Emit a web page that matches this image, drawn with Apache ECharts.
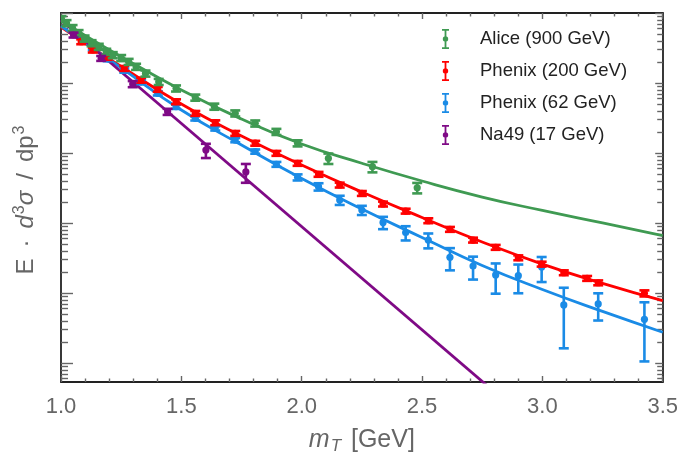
<!DOCTYPE html>
<html>
<head>
<meta charset="utf-8">
<script src="https://cdn.jsdelivr.net/npm/echarts@6/dist/echarts.min.js"></script>
<style>html,body{margin:0;padding:0;background:#fff}#c{width:681px;height:462px}</style>
</head>
<body>
<div id="c"></div>
<script>
// ---------- data ----------
const xMin = 1.0, xMax = 3.5;
const yMin = 5.35e-6, yMax = 1;
const xTickLabels = ['1.0','1.5','2.0','2.5','3.0','3.5'];
const seriesNames = ['Alice (900 GeV)', 'Phenix (200 GeV)', 'Phenix (62 GeV)', 'Na49 (17 GeV)'];

const aliceX = [1.002,1.023,1.048,1.073,1.098,1.127,1.157,1.188,1.215,1.25,1.281,1.312,1.351,1.406,1.478,1.558,1.637,1.724,1.807,1.895,1.983,2.111,2.294,2.48];
const aliceY = [0.820,0.719,0.611,0.518,0.433,0.372,0.330,0.280,0.251,0.228,0.201,0.171,0.137,0.104,0.0839,0.0621,0.0461,0.0369,0.0265,0.0201,0.0138,0.00839,0.00637,0.00319];
const aliceErr = [0.1,0.1,0.1,0.1,0.1,0.1,0.1,0.1,0.1,0.1,0.1,0.1,0.1,0.1,0.1,0.1,0.1,0.1,0.1,0.1,0.1,0.17,0.17,0.17];

const phx200X = [1.084,1.132,1.194,1.263,1.333,1.402,1.478,1.558,1.641,1.724,1.807,1.895,1.983,2.07,2.158,2.25,2.338,2.432,2.526,2.616,2.712,2.806,2.9,2.997,3.089,3.186,3.232,3.424];
const phx200Y = [0.389,0.296,0.233,0.162,0.110,0.0813,0.0541,0.0369,0.0271,0.0191,0.0138,0.00991,0.00713,0.00497,0.00349,0.00265,0.00187,0.00148,0.00108,0.000813,0.000571,0.000450,0.000319,0.000259,0.000195,0.000162,0.000140,0.0000991];
const phx200Err = [0.08,0.08,0.08,0.08,0.08,0.08,0.08,0.08,0.08,0.08,0.08,0.08,0.08,0.08,0.08,0.08,0.08,0.08,0.08,0.08,0.08,0.08,0.08,0.08,0.08,0.08,0.08,0.1];

const phx62X = [1.132,1.194,1.263,1.333,1.402,1.478,1.558,1.641,1.724,1.807,1.895,1.983,2.07,2.158,2.25,2.338,2.432,2.526,2.616,2.712,2.806,2.9,2.997,3.089,3.232,3.424];
const phx62Y = [0.316,0.220,0.151,0.103,0.0713,0.0458,0.0313,0.0225,0.0153,0.0105,0.0069,0.0045,0.0033,0.00213,0.00153,0.00102,0.000731,0.000571,0.000324,0.000243,0.000181,0.000177,0.000235,0.0000675,0.0000697,0.0000421];
const phx62Err = [0.07,0.07,0.07,0.07,0.07,0.07,0.07,0.07,0.07,0.07,0.08,0.1,0.12,0.15,0.15,0.2,0.23,0.24,0.35,0.36,0.46,0.44,0.39,0.76,0.42,0.75];

const na49X = [1.052,1.167,1.298,1.443,1.602,1.768];
const na49Y = [0.485,0.225,0.0968,0.0389,0.0110,0.00536];
const na49Err = [0.08,0.08,0.1,0.1,0.23,0.3];

// fitted curves
const fitX = [1.0,1.1,1.25,1.5,1.75,2.0,2.25,2.5,2.75,3.0,3.25,3.5];
const aliceFit = [0.794,0.477,0.238,0.0794,0.0306,0.01346,0.00713,0.00398,0.00235,0.00151,0.001,0.000662];
const phx200Fit = [0.631,0.373,0.172,0.0501,0.0175,0.00675,0.00277,0.0012,0.000536,0.000259,0.000137,0.0000776];
const phx62Fit = [0.652,0.373,0.164,0.0411,0.0130,0.00432,0.00158,0.000621,0.000247,0.000112,0.0000545,0.0000275];
const na49FitX = [1.0, 3.0];
const na49Fit = [0.787, 1.0e-6];

// ---------- styling ----------
const colors = ['#3f9a52', '#ff0000', '#1a8be6', '#7f0a86'];
const FONT = '"Liberation Sans", Arial, Helvetica, sans-serif';
const GREY = '#666';

const zip = (xs, ys, es) => xs.map((x, i) => es ? [x, ys[i], es[i]] : [x, ys[i]]);

// log tick positions (on a helper value axis in log10 units)
const lo = Math.log10(yMin), hi = Math.log10(yMax);
const yMajor = [], yMinor = [];
for (let k = Math.floor(lo); k <= Math.ceil(hi); k++) {
  if (k >= lo - 1e-9 && k <= hi + 1e-9) yMajor.push(k);
  for (let m = 2; m <= 9; m++) {
    const v = k + Math.log10(m);
    if (v >= lo && v <= hi) yMinor.push(v);
  }
}

function errRender(color) {
  return function (params, api) {
    const x = api.value(0), y = api.value(1), e = api.value(2);
    const c = api.coord([x, y]);
    const t = api.coord([x, y * (1 + e)]);
    const b = api.coord([x, y * (1 - e)]);
    const cap = 5, lw = 2.6;
    const st = { stroke: color, lineWidth: lw };
    return {
      type: 'group',
      children: [
        { type: 'line', shape: { x1: c[0], y1: t[1], x2: c[0], y2: b[1] }, style: st },
        { type: 'line', shape: { x1: c[0] - cap, y1: t[1], x2: c[0] + cap, y2: t[1] }, style: st },
        { type: 'line', shape: { x1: c[0] - cap, y1: b[1], x2: c[0] + cap, y2: b[1] }, style: st },
        { type: 'circle', shape: { cx: c[0], cy: c[1], r: 3.6 }, style: { fill: color } }
      ]
    };
  };
}

const legendIcon = 'path://M0,0h7v1.8h-7z M2.6,1.8h1.8v16.4h-1.8z M0,18.2h7v1.8h-7z M0.8,10a2.7,2.7 0 1 1 5.4,0a2.7,2.7 0 1 1 -5.4,0z';

function fitLine(xs, ys, color, smooth) {
  return {
    type: 'line', data: zip(xs, ys), xAxisIndex: 0, yAxisIndex: 0,
    showSymbol: false, symbol: 'none', smooth: smooth, silent: true,
    lineStyle: { color: color, width: 2.8 }, z: 2
  };
}
function points(name, xs, ys, es, color, z) {
  return {
    type: 'custom', name: name, data: zip(xs, ys, es), xAxisIndex: 0, yAxisIndex: 0,
    encode: { x: 0, y: 1 }, renderItem: errRender(color), clip: true,
    itemStyle: { color: color }, z: z
  };
}

const xAxisCommon = {
  type: 'value', min: xMin, max: xMax, interval: 0.5,
  axisLine: { show: true, onZero: false, lineStyle: { color: '#222', width: 1.8 } },
  axisTick: { show: true, inside: true, length: 6, lineStyle: { color: GREY, width: 1.4 } },
  minorTick: { show: true, splitNumber: 5, length: 3.5, lineStyle: { color: GREY, width: 1.4 } },
  splitLine: { show: false }, minorSplitLine: { show: false }
};
function yHelper(position, ticks, len, line) {
  return {
    type: 'value', min: lo, max: hi, position: position,
    axisLine: { show: line, onZero: false, lineStyle: { color: '#222', width: 1.8 } },
    axisTick: { show: true, inside: true, length: len, customValues: ticks, lineStyle: { color: GREY, width: 1.4 } },
    axisLabel: { show: false }, splitLine: { show: false }
  };
}

const chart = echarts.init(document.getElementById('c'), null, { renderer: 'canvas' });
chart.setOption({
  animation: false,
  backgroundColor: '#fff',
  grid: { left: 61, right: 18, top: 13, bottom: 80 },
  legend: {
    orient: 'vertical', left: 442, top: 29, padding: 0,
    itemWidth: 7, itemHeight: 20, itemGap: 12,
    data: seriesNames.map(n => ({ name: n, icon: legendIcon })),
    textStyle: { fontSize: 18.5, color: '#222', fontFamily: FONT, padding: [0, 0, 0, 26] }
  },
  xAxis: [
    Object.assign({}, xAxisCommon, {
      position: 'bottom',
      axisLabel: {
        fontSize: 22, color: GREY, fontFamily: FONT, margin: 14,
        formatter: v => xTickLabels[Math.round((v - xMin) / 0.5)] || ''
      },
      name: '{i|m}{s|T} [GeV]', nameLocation: 'middle', nameGap: 44,
      nameTextStyle: {
        fontSize: 25, color: GREY, fontFamily: FONT,
        rich: {
          i: { fontSize: 25, fontStyle: 'italic', color: GREY, fontFamily: FONT },
          s: { fontSize: 17, fontStyle: 'italic', color: GREY, fontFamily: FONT, padding: [12, 3, 0, 1] }
        }
      }
    }),
    Object.assign({}, xAxisCommon, { position: 'top', axisLabel: { show: false } })
  ],
  yAxis: [
    { type: 'log', logBase: 10, min: yMin, max: yMax, show: false },
    yHelper('left', yMajor, 12, true),
    yHelper('left', yMinor, 7, false),
    yHelper('right', yMajor, 7.5, true),
    yHelper('right', yMinor, 5.5, false)
  ],
  graphic: [{
    type: 'text', x: 26, y: 200, rotation: Math.PI / 2,
    style: {
      text: 'E{op|·}{i|d}{sup|3}{i|σ}{op|/}dp{sup|3}',
      fontSize: 24, fill: GREY, fontFamily: FONT, align: 'center', verticalAlign: 'middle',
      rich: {
        i: { fontSize: 24, fontStyle: 'italic', fill: GREY, fontFamily: FONT },
        op: { fontSize: 24, fill: GREY, fontFamily: FONT, padding: [0, 11, 0, 11] },
        sup: { fontSize: 16, fill: GREY, fontFamily: FONT, padding: [0, 0, 12, 1] }
      }
    }
  }],
  series: [
    fitLine(fitX, aliceFit, colors[0], true),
    fitLine(fitX, phx200Fit, colors[1], true),
    fitLine(fitX, phx62Fit, colors[2], true),
    fitLine(na49FitX, na49Fit, colors[3], false),
    points(seriesNames[2], phx62X, phx62Y, phx62Err, colors[2], 3),
    points(seriesNames[1], phx200X, phx200Y, phx200Err, colors[1], 4),
    points(seriesNames[0], aliceX, aliceY, aliceErr, colors[0], 5),
    points(seriesNames[3], na49X, na49Y, na49Err, colors[3], 6)
  ]
});
</script>
</body>
</html>
